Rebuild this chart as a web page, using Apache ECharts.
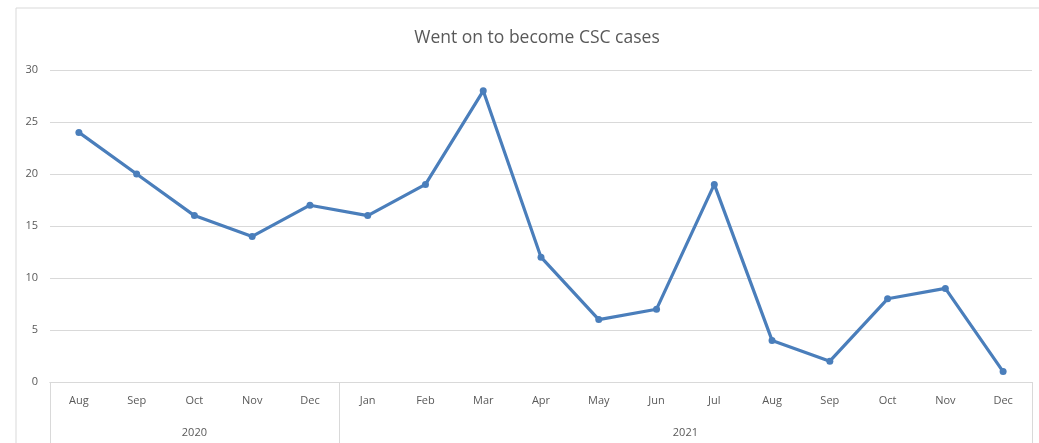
<!DOCTYPE html>
<html><head><meta charset="utf-8">
<script src="https://cdn.jsdelivr.net/npm/echarts@6/dist/echarts.min.js"></script>
<style>html,body{margin:0;padding:0;background:#fff}#c{width:1039px;height:443px}</style>
</head><body><div id="c"></div>
<script>
const months = ['Aug','Sep','Oct','Nov','Dec','Jan','Feb','Mar','Apr','May','Jun','Jul','Aug','Sep','Oct','Nov','Dec'];
const values = [24,20,16,14,17,16,19,28,12,6,7,19,4,2,8,9,1];
const years = ['2020','2021'];
const yearSpans = [5,12];
const yTicks = [0,5,10,15,20,25,30];

const bounds=[0]; yearSpans.forEach(s=>bounds.push(bounds[bounds.length-1]+s));
const yearCenters = years.map((y,i)=>(bounds[i]+bounds[i+1])/2);

const chart = echarts.init(document.getElementById('c'));
const font = '"Open Sans", sans-serif';
chart.setOption({
  animation:false,
  title:{text:'Went on to become CSC cases',left:532,textAlign:'center',top:24,
    textStyle:{fontFamily:font,fontSize:17.5,fontWeight:'normal',color:'#595959'}},
  graphic:[{type:'rect',shape:{x:16,y:8,width:1100,height:500},style:{fill:'none',stroke:'#d9d9d9',lineWidth:1},silent:true,z:-1}],
  grid:{left:50,right:7,top:70,bottom:61,containLabel:false},
  xAxis:[{type:'category',data:months,boundaryGap:true,
    axisLine:{lineStyle:{color:'#d9d9d9'}},axisTick:{show:false},
    axisLabel:{color:'#595959',fontSize:11,fontFamily:font,margin:13,interval:0}},
   {type:'value',min:0,max:months.length,position:'bottom',
    axisLine:{show:true,onZero:false,lineStyle:{color:'#d9d9d9'}},
    splitLine:{show:false},
    axisTick:{show:true,customValues:bounds,length:61,lineStyle:{color:'#d9d9d9'}},
    axisLabel:{customValues:yearCenters,color:'#595959',fontSize:11,fontFamily:font,margin:45,
      formatter:v=>{const i=yearCenters.indexOf(v);return i>=0?years[i]:'';}}}],
  yAxis:{type:'value',min:yTicks[0],max:yTicks[yTicks.length-1],interval:5,
    axisLine:{show:false},axisTick:{show:false},
    splitLine:{lineStyle:{color:'#d9d9d9'}},
    axisLabel:{color:'#595959',fontSize:11,fontFamily:font,margin:12}},
  series:[{type:'line',data:values,xAxisIndex:0,symbol:'circle',symbolSize:7,
    lineStyle:{color:'#4a7ebb',width:3.2},itemStyle:{color:'#4a7ebb'}}]
});
</script></body></html>
